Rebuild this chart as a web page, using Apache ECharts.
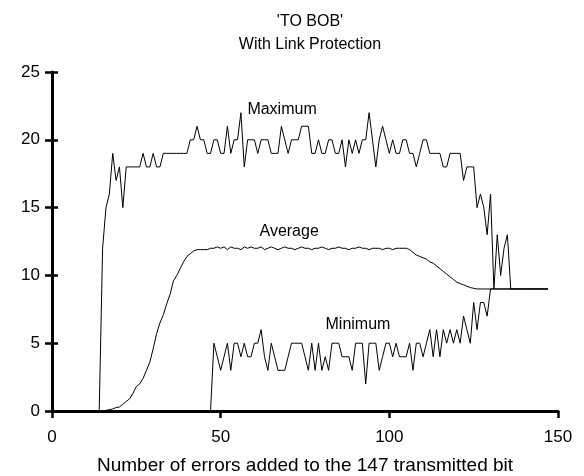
<!DOCTYPE html>
<html>
<head>
<meta charset="utf-8">
<script src="https://cdn.jsdelivr.net/npm/echarts@6/dist/echarts.min.js"></script>
<style>
  html, body { margin: 0; padding: 0; background: #fff; }
  #chart { width: 584px; height: 476px; }
</style>
</head>
<body>
<div id="chart"></div>
<script>
// x is the number of added errors, one point per integer step from each start
const maxStart = 14;
const maxValues = [
  0, 12, 15, 16, 19, 17,
  18, 15, 18, 18, 18, 18, 18, 19, 18, 18,
  19, 18, 18, 19, 19, 19, 19, 19, 19, 19,
  19, 20, 20, 21, 20, 20, 19, 19, 20, 20,
  19, 19, 21, 19, 20, 20, 22, 18, 20, 20,
  20, 19, 20, 20, 20, 19, 19, 19, 21, 20,
  19, 20, 20, 20, 21, 21, 21, 19, 19, 20,
  19, 19, 20, 20, 19, 19, 20, 18, 20, 19,
  20, 19, 20, 20, 22, 20, 18, 20, 21, 20,
  19, 20, 19, 19, 20, 20, 19, 19, 18, 19,
  20, 20, 19, 19, 19, 19, 18, 18, 19, 19,
  19, 19, 17, 18, 18, 18, 15, 16, 15, 13,
  16, 9, 13, 10, 12, 13, 9, 9, 9, 9,
  9, 9, 9, 9, 9, 9, 9, 9
];

const avgStart = 15;
const avgValues = [
  0, 0.05, 0.1, 0.15, 0.25,
  0.3, 0.5, 0.7, 0.9, 1.3, 1.8, 2.0, 2.4, 3.0, 3.6,
  4.6, 5.7, 6.5, 7.1, 7.9, 8.6, 9.6, 10.0, 10.5, 11.0,
  11.4, 11.6, 11.8, 11.9, 11.9, 11.9, 11.9, 12.0, 12.0, 12.1,
  12.0, 12.1, 11.9, 12.1, 12.0, 12.0, 11.9, 12.1, 12.0, 12.1,
  12.0, 12.0, 12.1, 11.9, 12.0, 12.1, 12.0, 11.9, 12.0, 12.1,
  12.0, 12.0, 11.9, 12.0, 12.1, 12.0, 12.0, 11.9, 12.0, 12.0,
  12.1, 12.0, 11.9, 12.0, 12.0, 12.1, 12.0, 12.0, 11.9, 12.0,
  12.0, 12.1, 12.0, 12.0, 11.9, 12.0, 12.0, 12.0, 11.9, 12.0,
  12.0, 11.9, 12.0, 12.0, 12.0, 12.0, 11.9, 11.7, 11.5, 11.4,
  11.3, 11.2, 11.0, 10.9, 10.7, 10.5, 10.3, 10.1, 9.9, 9.7,
  9.5, 9.4, 9.3, 9.2, 9.1, 9.05, 9.0, 9, 9, 9,
  9, 9, 9, 9, 9, 9, 9, 9, 9, 9,
  9, 9, 9, 9, 9, 9, 9, 9
];

const minStart = 47;
const minValues = [
  0, 5, 4,
  3, 4, 5, 3, 5, 5, 4, 5, 4, 4,
  5, 5, 6, 4, 3, 5, 4, 3, 3, 3,
  4, 5, 5, 5, 5, 4, 3, 5, 3, 5,
  3, 4, 3, 5, 5, 5, 4, 4, 4, 3,
  5, 5, 5, 2, 5, 5, 5, 3, 4, 5,
  5, 4, 5, 4, 4, 4, 5, 3, 5, 5,
  4, 5, 6, 4, 6, 4, 6, 5, 6, 5,
  6, 5, 7, 6, 5, 8, 6, 8, 8, 7,
  9, 9, 9, 9, 9, 9, 9, 9, 9, 9,
  9, 9, 9, 9, 9, 9, 9, 9
];

const seriesNames = ["Maximum", "Average", "Minimum"];
const xTicks = [0, 50, 100, 150];
const yTicks = [0, 5, 10, 15, 20, 25];

const toPoints = (start, values) => values.map((v, i) => [start + i, v]);

const font = "'Liberation Sans', Arial, Helvetica, sans-serif";
const ink = "#000";

const chart = echarts.init(document.getElementById("chart"), null, { renderer: "canvas" });

const lineSeries = (name, points, labelCoord) => ({
  name,
  type: "line",
  data: points,
  symbol: "none",
  lineStyle: { color: ink, width: 1 },
  z: 3,
  markPoint: {
    symbol: "circle",
    symbolSize: 0,
    silent: true,
    label: {
      show: true,
      formatter: name,
      color: ink,
      fontFamily: font,
      fontSize: 16,
      position: "inside"
    },
    data: [{ coord: labelCoord }]
  }
});

// the ticks cross the axis lines, so each axis is drawn twice: ticks outside, then inside
const xBase = {
  type: "value",
  min: xTicks[0],
  max: xTicks[xTicks.length - 1],
  interval: 50,
  splitLine: { show: false }
};
const yBase = {
  type: "value",
  min: yTicks[0],
  max: yTicks[yTicks.length - 1],
  interval: 5,
  splitLine: { show: false }
};

chart.setOption({
  animation: false,
  backgroundColor: "#fff",
  title: {
    text: "'TO BOB'\nWith Link Protection",
    left: 305,
    top: 5,
    textAlign: "center",
    textStyle: {
      color: ink,
      fontFamily: font,
      fontSize: 16,
      fontWeight: "normal",
      lineHeight: 23
    }
  },
  grid: {
    left: 52,
    right: 26,
    top: 72,
    bottom: 65,
    containLabel: false,
    outerBoundsMode: "none"
  },
  xAxis: [
    Object.assign({}, xBase, {
      name: "Number of errors added to the 147 transmitted bit",
      nameLocation: "middle",
      nameGap: 45,
      nameTextStyle: { color: ink, fontFamily: font, fontSize: 19 },
      axisLine: { lineStyle: { color: ink, width: 3 } },
      axisTick: { length: 7, lineStyle: { color: ink, width: 2.5 } },
      axisLabel: { color: ink, fontFamily: font, fontSize: 17, margin: 18 }
    }),
    Object.assign({}, xBase, {
      axisLine: { show: false },
      axisTick: { inside: true, length: 6, lineStyle: { color: ink, width: 2.5 } },
      axisLabel: { show: false }
    })
  ],
  yAxis: [
    Object.assign({}, yBase, {
      axisLine: { lineStyle: { color: ink, width: 3 } },
      axisTick: { length: 7, lineStyle: { color: ink, width: 2.5 } },
      axisLabel: { color: ink, fontFamily: font, fontSize: 17, margin: 12 }
    }),
    Object.assign({}, yBase, {
      position: "left",
      axisLine: { show: false },
      axisTick: { inside: true, length: 6, lineStyle: { color: ink, width: 2.5 } },
      axisLabel: { show: false }
    })
  ],
  series: [
    lineSeries(seriesNames[0], toPoints(maxStart, maxValues), [68.2, 22.2]),
    lineSeries(seriesNames[1], toPoints(avgStart, avgValues), [70.3, 13.25]),
    lineSeries(seriesNames[2], toPoints(minStart, minValues), [90.7, 6.35])
  ]
});

window.addEventListener("resize", () => chart.resize());
</script>
</body>
</html>
